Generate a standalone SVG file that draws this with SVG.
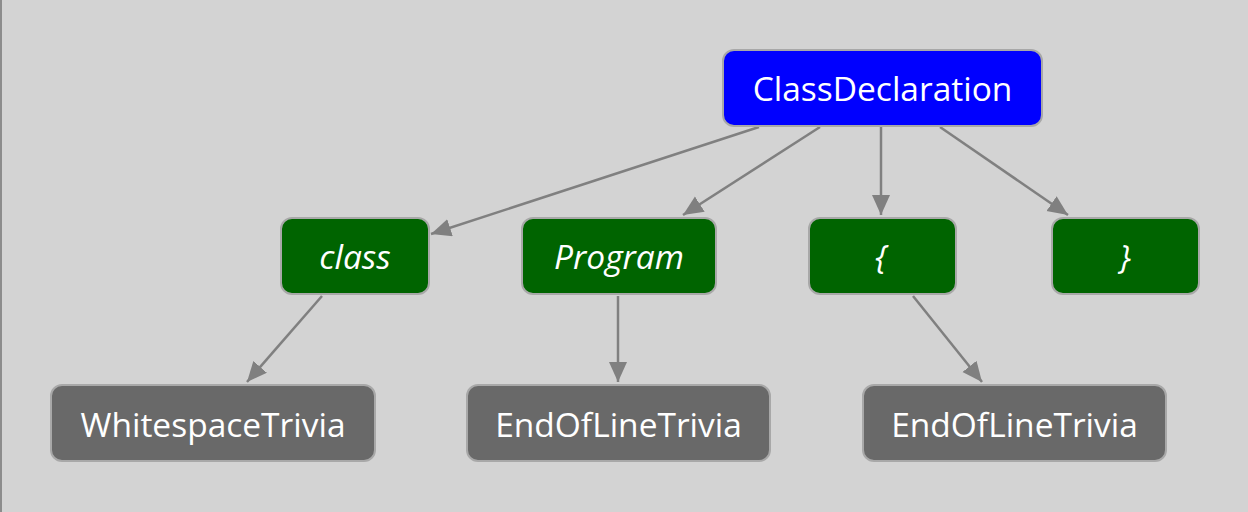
<svg xmlns="http://www.w3.org/2000/svg" width="1248" height="512" viewBox="0 0 1248 512">
<style>
.node rect{stroke:#a8a8a8;stroke-width:2}
.cd rect{fill:#0000ff}
.tok rect{fill:#006400}
.triv rect{fill:#696969}
text{font-family:"Open Sans","Noto Sans","Liberation Sans",sans-serif;font-size:33.5px;fill:#ffffff;text-anchor:middle}
.tok text{font-style:italic}
#edges line{stroke:#808080;stroke-width:2.5;marker-end:url(#arr)}
</style>
<defs>
<marker id="arr" markerUnits="userSpaceOnUse" markerWidth="22" markerHeight="20" refX="20" refY="9" orient="auto">
<path d="M0,0 L20,9 L0,18 z" fill="#808080"/>
</marker>
</defs>
<rect x="0" y="0" width="1248" height="512" fill="#d3d3d3"/>
<line x1="1" y1="0" x2="1" y2="512" stroke="#8c8c8c" stroke-width="2"/>
<g id="edges">
<line x1="759" y1="127" x2="431" y2="234"/>
<line x1="820" y1="127" x2="683" y2="215"/>
<line x1="881" y1="127" x2="881" y2="215"/>
<line x1="940" y1="127" x2="1068" y2="215"/>
<line x1="322" y1="296" x2="247" y2="382"/>
<line x1="618" y1="296" x2="618" y2="382"/>
<line x1="913" y1="296" x2="982" y2="382"/>
</g>
<g id="n-classdecl" class="node cd"><rect x="723" y="50" width="319" height="76" rx="11"/><text x="882.5" y="101">ClassDeclaration</text></g>
<g id="n-class" class="node tok"><rect x="281" y="218" width="148" height="76" rx="11"/><text x="355" y="269">class</text></g>
<g id="n-program" class="node tok"><rect x="522" y="218" width="194" height="76" rx="11"/><text x="619" y="269">Program</text></g>
<g id="n-lbrace" class="node tok"><rect x="809" y="218" width="147" height="76" rx="11"/><text x="881" y="269">{</text></g>
<g id="n-rbrace" class="node tok"><rect x="1052" y="218" width="147" height="76" rx="11"/><text x="1125" y="269">}</text></g>
<g id="n-ws" class="node triv"><rect x="51" y="385" width="324" height="76" rx="11"/><text x="213" y="437">WhitespaceTrivia</text></g>
<g id="n-eol1" class="node triv"><rect x="467" y="385" width="303" height="76" rx="11"/><text x="618.5" y="437">EndOfLineTrivia</text></g>
<g id="n-eol2" class="node triv"><rect x="863" y="385" width="303" height="76" rx="11"/><text x="1014.5" y="437">EndOfLineTrivia</text></g>
</svg>
